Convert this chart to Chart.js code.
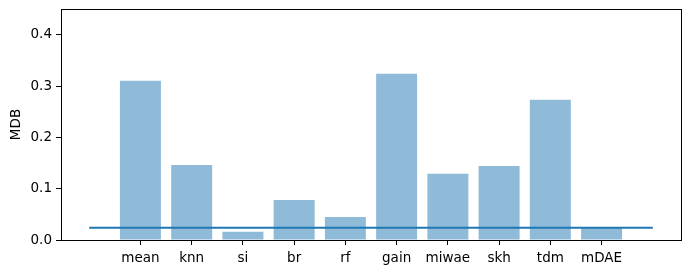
<!DOCTYPE html>
<html>
<head>
<meta charset="utf-8">
<script src="https://cdn.jsdelivr.net/npm/chart.js@4/dist/chart.umd.min.js"></script>
<style>
  html, body { margin: 0; padding: 0; background: #fff; }
  #wrap { width: 691px; height: 274px; }
</style>
</head>
<body>
<div id="wrap"><canvas id="chart" width="691" height="274"></canvas></div>
<script>
// ===== DATA =====
const categories = ['mean', 'knn', 'si', 'br', 'rf', 'gain', 'miwae', 'skh', 'tdm', 'mDAE'];
const mdbValues  = [0.310, 0.146, 0.016, 0.078, 0.045, 0.324, 0.129, 0.144, 0.273, 0.024];
const refLevel   = 0.024;
const refSpan    = [-1, 10];
const yTicks     = [0, 0.1, 0.2, 0.3, 0.4];

const FONT = { family: 'DejaVu Sans', size: 13.5 };

// full box around the plot, like matplotlib spines
const frame = {
  id: 'frame',
  afterDraw(chart) {
    const a = chart.chartArea, c = chart.ctx;
    c.save();
    c.strokeStyle = '#000';
    c.lineWidth = 1;
    c.strokeRect(Math.round(a.left) + 0.5, Math.round(a.top) + 0.5,
                 Math.round(a.right - a.left), Math.round(a.bottom - a.top));
    c.restore();
  }
};

new Chart(document.getElementById('chart'), {
  data: {
    datasets: [{
      type: 'bar',
      data: categories.map((c, i) => ({ x: i, y: mdbValues[i] })),
      backgroundColor: 'rgba(31,119,180,0.5)',
      borderWidth: 0,
      barPercentage: 0.8,
      categoryPercentage: 1,
      order: 2
    }, {
      type: 'line',
      data: refSpan.map(x => ({ x: x, y: refLevel })),
      borderColor: '#1f77b4',
      borderWidth: 2,
      pointRadius: 0,
      fill: false,
      order: 1
    }]
  },
  options: {
    responsive: false,
    animation: false,
    layout: { padding: { top: 9, right: 10, left: 0, bottom: 0 } },
    plugins: { legend: { display: false }, tooltip: { enabled: false } },
    scales: {
      x: {
        type: 'linear',
        min: -1.55,
        max: 10.55,
        offset: false,
        afterBuildTicks: s => { s.ticks = categories.map((c, i) => ({ value: i })); },
        afterFit: s => { s.height = 34; s.paddingLeft = 0; s.paddingRight = 0; },
        ticks: {
          color: '#000', font: FONT, padding: 5, maxRotation: 0, autoSkip: false,
          callback: v => categories[v]
        },
        grid: { display: true, offset: false, drawOnChartArea: false, tickLength: 5, tickColor: '#000', tickWidth: 1 },
        border: { display: false }
      },
      y: {
        min: 0,
        max: 0.45,
        afterBuildTicks: s => { s.ticks = yTicks.map(v => ({ value: v })); },
        afterFit: s => { s.width = 61; s.paddingTop = 0; s.paddingBottom = 0; },
        ticks: { color: '#000', font: FONT, padding: 4, callback: v => v.toFixed(1) },
        grid: { display: true, drawOnChartArea: false, tickLength: 5, tickColor: '#000', tickWidth: 1 },
        border: { display: false },
        title: { display: true, text: 'MDB', color: '#000', font: FONT, padding: { top: 8, bottom: 4 } }
      }
    }
  },
  plugins: [frame]
});
</script>
</body>
</html>
